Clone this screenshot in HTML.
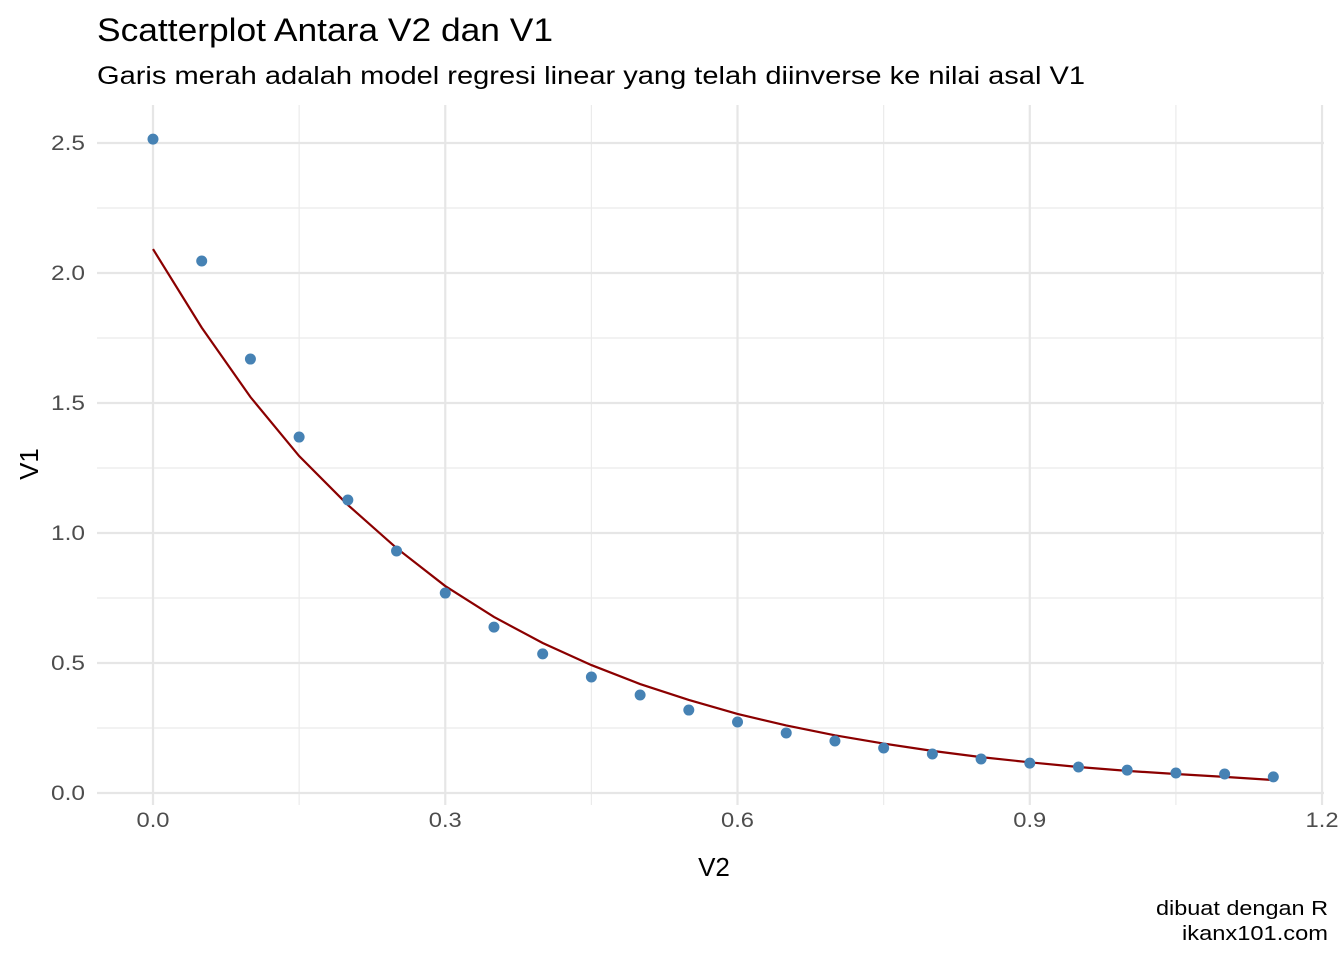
<!DOCTYPE html>
<html><head><meta charset="utf-8"><style>
body{margin:0;background:#fff;font-family:"Liberation Sans",sans-serif}
</style></head><body>
<svg width="1344" height="960" xmlns="http://www.w3.org/2000/svg" font-family="Liberation Sans, sans-serif">
<text x="97" y="41" font-size="32" fill="#000" textLength="456" lengthAdjust="spacingAndGlyphs">Scatterplot Antara V2 dan V1</text>
<text x="97" y="84" font-size="25" fill="#000" textLength="988" lengthAdjust="spacingAndGlyphs">Garis merah adalah model regresi linear yang telah diinverse ke nilai asal V1</text>
<g id="grid"></g><g id="axes"></g><g id="marks"></g>
<text x="714" y="876" font-size="26" text-anchor="middle">V2</text>
<text transform="translate(38,464) rotate(-90)" font-size="26" text-anchor="middle">V1</text>
<text x="1328" y="915" font-size="20" text-anchor="end" textLength="172" lengthAdjust="spacingAndGlyphs">dibuat dengan R</text>
<text x="1328" y="940" font-size="20" text-anchor="end" textLength="146" lengthAdjust="spacingAndGlyphs">ikanx101.com</text>
</svg>
<script>
const xVals=[0,0.05,0.1,0.15,0.2,0.25,0.3,0.35,0.4,0.45,0.5,0.55,0.6,0.65,0.7,0.75,0.8,0.85,0.9,0.95,1.0,1.05,1.1,1.15];
const yPoints=[2.515,2.046,1.669,1.369,1.127,0.931,0.769,0.638,0.535,0.446,0.377,0.319,0.273,0.231,0.2,0.173,0.15,0.131,0.115,0.1,0.088,0.077,0.073,0.062];
const yFit=[2.092,1.79,1.523,1.296,1.108,0.942,0.796,0.677,0.577,0.492,0.419,0.358,0.304,0.26,0.222,0.19,0.162,0.138,0.118,0.1,0.085,0.073,0.062,0.05];
const xTicks=[0,0.3,0.6,0.9,1.2];
const xTickLabels=["0.0","0.3","0.6","0.9","1.2"];
const xMinor=[0.15,0.45,0.75,1.05];
const yTicks=[0,0.5,1,1.5,2,2.5];
const yTickLabels=["0.0","0.5","1.0","1.5","2.0","2.5"];
const yMinor=[0.25,0.75,1.25,1.75,2.25];
const NS="http://www.w3.org/2000/svg";
const X=v=>153+v*974.2, Y=v=>793-v*260;
const L=97,R=1324,T=105,B=805;
function mk(t,a,p){const e=document.createElementNS(NS,t);for(const k in a)e.setAttribute(k,a[k]);document.getElementById(p).appendChild(e);return e;}
xMinor.forEach(v=>{const e=mk('line',{x1:X(v),x2:X(v),y1:T,y2:B,stroke:'#ebebeb','stroke-width':1.2},'grid');

});
yMinor.forEach(v=>{const e=mk('line',{x1:L,x2:R,y1:Y(v),y2:Y(v),stroke:'#ebebeb','stroke-width':1.2},'grid');

});
xTicks.forEach((v,i)=>{const e=mk('line',{x1:X(v),x2:X(v),y1:T,y2:B,stroke:'#e6e6e6','stroke-width':2.2},'grid');


const t=mk('text',{x:X(v),y:827,'font-size':21,fill:'#4d4d4d','text-anchor':'middle',textLength:33,lengthAdjust:'spacingAndGlyphs'},'axes');t.textContent=xTickLabels[i];

});
yTicks.forEach((v,i)=>{const e=mk('line',{x1:L,x2:R,y1:Y(v),y2:Y(v),stroke:'#e6e6e6','stroke-width':2.2},'grid');


const t=mk('text',{x:85,y:Y(v)+7,'font-size':21,fill:'#4d4d4d','text-anchor':'end',textLength:34,lengthAdjust:'spacingAndGlyphs'},'axes');t.textContent=yTickLabels[i];

});
const line=mk('polyline',{points:xVals.map((x,i)=>X(x)+','+Y(yFit[i])).join(' '),fill:'none',stroke:'#8b0000','stroke-width':2.2},'marks');


xVals.forEach((x,i)=>{const c=mk('circle',{cx:X(x),cy:Y(yPoints[i]),r:5.5,fill:'#4682b4'},'marks');

});
</script>
</body></html>
